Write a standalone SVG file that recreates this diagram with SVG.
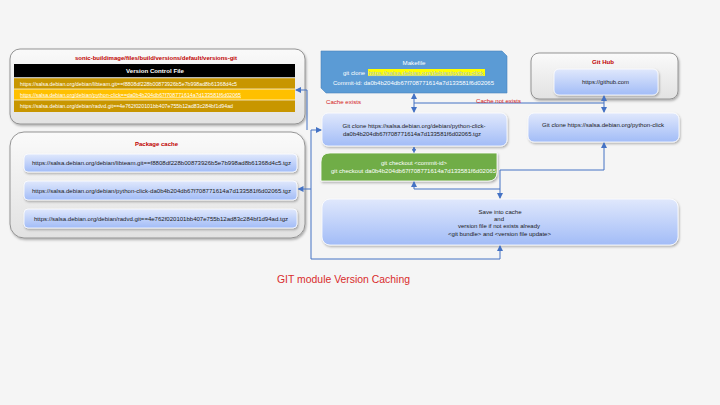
<svg xmlns="http://www.w3.org/2000/svg" width="720" height="405" viewBox="0 0 720 405">
<style>
text{font-family:"Liberation Sans",Arial,sans-serif;font-size:6px;fill:#1a1a1a}
.t{font-weight:bold;fill:#c00000}
.w{fill:#ffffff}
.c{text-anchor:middle}
.red{fill:#d42020}
.grp{fill:url(#gGray);stroke:#8a8a8a;stroke-width:0.9;filter:url(#sh)}
.box{fill:url(#gBlue);stroke:#ffffff;stroke-width:0.8;filter:url(#sh)}
.con{fill:none;stroke:#4472c4;stroke-width:1}
.u{text-decoration:underline}
</style>
<defs>
<linearGradient id="gBlue" x1="0" y1="0" x2="0" y2="1">
<stop offset="0" stop-color="#e0e8fc"/>
<stop offset="1" stop-color="#a2bcf7"/>
</linearGradient>
<linearGradient id="gGray" x1="0" y1="0" x2="0" y2="1">
<stop offset="0" stop-color="#fafafa"/>
<stop offset="1" stop-color="#e2e2e2"/>
</linearGradient>
<filter id="sh" x="-10%" y="-20%" width="120%" height="150%">
<feDropShadow dx="1" dy="1.5" stdDeviation="1.2" flood-color="#000" flood-opacity="0.3"/>
</filter>
<marker id="ah" markerUnits="userSpaceOnUse" markerWidth="6" markerHeight="6" refX="5" refY="3" orient="auto-start-reverse" viewBox="0 0 6 6">
<path d="M0,0 L6,3 L0,6 z" fill="#4472c4"/>
</marker>
<marker id="as" markerUnits="userSpaceOnUse" markerWidth="4" markerHeight="4" refX="3.5" refY="2" orient="auto-start-reverse" viewBox="0 0 4 4">
<path d="M0,0 L4,2 L0,4 z" fill="#4472c4"/>
</marker>
</defs>
<rect width="720" height="405" fill="#f5f5f5"/>

<g id="version-control">
<rect class="grp" x="10" y="49" width="295" height="75" rx="10"/>
<text class="t c" x="156" y="60" textLength="162" lengthAdjust="spacingAndGlyphs">sonic-buildimage/files/build/versions/default/versions-git</text>
<rect x="14" y="64" width="281" height="13.5" fill="#000000"/>
<text class="w c" x="155" y="73" font-weight="bold" textLength="58" lengthAdjust="spacingAndGlyphs">Version Control File</text>
<rect x="14" y="78" width="281" height="11" fill="#c89600"/>
<rect x="14" y="89" width="281" height="11" fill="#ffc000"/>
<rect x="14" y="100" width="281" height="12" fill="#c89600"/>
<path d="M14,77.8 H295 M14,89 H295 M14,100 H295" stroke="#ffffff" stroke-width="0.7"/>
<text class="w" x="20" y="85.5" textLength="217" lengthAdjust="spacingAndGlyphs">https://salsa.debian.org/debian/libteam.git==f8808df228b00873926b5e7b998ad8b61368d4c5</text>
<text class="w u" x="20" y="96.5" textLength="221" lengthAdjust="spacingAndGlyphs">https://salsa.debian.org/debian/python-click==da0b4b204db67f708771614a7d133581f6d02065</text>
<text class="w" x="20" y="108" textLength="213" lengthAdjust="spacingAndGlyphs">https://salsa.debian.org/debian/radvd.git==4e762f020101bb407e755b12ad83c284bf1d94ad</text>
</g>

<g id="package-cache">
<rect class="grp" x="10" y="132" width="295" height="106" rx="14"/>
<text class="t c" x="156.5" y="146" textLength="43" lengthAdjust="spacingAndGlyphs">Package cache</text>
<rect class="box" x="24" y="154" width="273" height="18" rx="4"/>
<rect class="box" x="24" y="181" width="273" height="19" rx="4"/>
<rect class="box" x="24" y="209" width="273" height="19" rx="4"/>
<text class="c" x="161.5" y="165" textLength="259" lengthAdjust="spacingAndGlyphs">https://salsa.debian.org/debian/libteam.git==f8808df228b00873926b5e7b998ad8b61368d4c5.tgz</text>
<text class="c" x="161.5" y="192.5" textLength="259" lengthAdjust="spacingAndGlyphs">https://salsa.debian.org/debian/python-click-da0b4b204db67f708771614a7d133581f6d02065.tgz</text>
<text class="c" x="161" y="220.5" textLength="254" lengthAdjust="spacingAndGlyphs">https://salsa.debian.org/debian/radvd.git==4e762f020101bb407e755b12ad83c284bf1d94ad.tgz</text>
</g>

<g id="makefile">
<path d="M321,51 L502,51 L507,56 L507,93 L326,93 L321,88 Z" fill="#5b9bd5" stroke="#4a85bd" stroke-width="0.6"/>
<text class="w c" x="414" y="65" textLength="23" lengthAdjust="spacingAndGlyphs">Makefile</text>
<text class="w" x="343" y="74.5" textLength="22" lengthAdjust="spacingAndGlyphs">git clone</text>
<rect x="368" y="69" width="117" height="7" fill="#ffff00"/>
<text class="u" x="368.5" y="74.5" fill="#b8cfe0" style="fill:#a9c4dc" textLength="115" lengthAdjust="spacingAndGlyphs">https://salsa.debian.org/debian/python-click</text>
<text class="w c" x="413.5" y="85" textLength="161" lengthAdjust="spacingAndGlyphs">Commit-id: da0b4b204db67f708771614a7d133581f6d02065</text>
</g>

<g id="github">
<rect class="grp" x="531" y="53" width="147" height="46" rx="8"/>
<text class="t c" x="603" y="64" textLength="22" lengthAdjust="spacingAndGlyphs">Git Hub</text>
<rect class="box" x="554" y="69" width="104" height="26" rx="5"/>
<text class="c" x="605.5" y="84" textLength="47" lengthAdjust="spacingAndGlyphs">https://github.com</text>
</g>

<g id="git-clone-cache">
<rect class="box" x="322" y="113" width="185" height="33" rx="6"/>
<text class="c" x="414" y="128" textLength="143" lengthAdjust="spacingAndGlyphs">Git clone https://salsa.debian.org/debian/python-click-</text>
<text class="c" x="412" y="135.5" textLength="138" lengthAdjust="spacingAndGlyphs">da0b4b204db67f708771614a7d133581f6d02065.tgz</text>
</g>

<g id="git-clone-remote">
<rect class="box" x="528" y="113" width="151" height="29" rx="6"/>
<text class="c" x="603" y="126.5" textLength="122" lengthAdjust="spacingAndGlyphs">Git clone https://salsa.debian.org/python-click</text>
</g>

<g id="git-checkout">
<path d="M330,153 L497,153 L497,172 Q497,181 488,181 L321,181 L321,162 Q321,153 330,153 Z" fill="#70ad47" stroke="#ffffff" stroke-width="0.8" filter="url(#sh)"/>
<text class="w c" x="414" y="165" textLength="66" lengthAdjust="spacingAndGlyphs">git checkout &lt;commit-id&gt;</text>
<text class="w c" x="413.5" y="172.5" textLength="165" lengthAdjust="spacingAndGlyphs">git checkout da0b4b204db67f708771614a7d133581f6d02065</text>
</g>

<g id="save-cache">
<rect class="box" x="322" y="199" width="356" height="46" rx="8"/>
<text class="c" x="500" y="213.5" textLength="43" lengthAdjust="spacingAndGlyphs">Save into cache</text>
<text class="c" x="499" y="221" textLength="10" lengthAdjust="spacingAndGlyphs">and</text>
<text class="c" x="499" y="228" textLength="82" lengthAdjust="spacingAndGlyphs">version file if not exists already</text>
<text class="c" x="499.5" y="235.5" textLength="103" lengthAdjust="spacingAndGlyphs">&lt;git bundle&gt; and &lt;version file update&gt;</text>
</g>

<g id="connectors">
<path class="con" d="M414,94 L414,112" marker-start="url(#ah)" marker-end="url(#ah)"/>
<path class="con" d="M414,103 L604,103"/>
<path class="con" d="M604,96 L604,112" marker-start="url(#ah)" marker-end="url(#ah)"/>
<path class="con" d="M414,147 L414,152.5" marker-start="url(#as)" marker-end="url(#as)"/>
<path class="con" d="M604,143 L604,170 L500,170 L500,198" marker-start="url(#ah)" marker-end="url(#ah)"/>
<path class="con" d="M500,189 L414,189 L414,182" marker-end="url(#ah)"/>
<path class="con" d="M500,246 L500,259 L311,259 L311,189 L298.5,189" marker-start="url(#ah)" marker-end="url(#ah)"/>
<path class="con" d="M311,189 L311,130 L321,130" marker-end="url(#ah)"/>
<path class="con" d="M307,130 L307,90 L296,90" marker-end="url(#ah)"/>
<text class="red" x="326" y="104" textLength="35" lengthAdjust="spacingAndGlyphs">Cache exists</text>
<text class="red" x="476" y="102.5" textLength="45" lengthAdjust="spacingAndGlyphs">Cache not exists</text>
</g>

<text class="c" x="343.5" y="283" style="font-size:10.5px;fill:#d92b2b" textLength="133" lengthAdjust="spacingAndGlyphs">GIT module Version Caching</text>
</svg>
